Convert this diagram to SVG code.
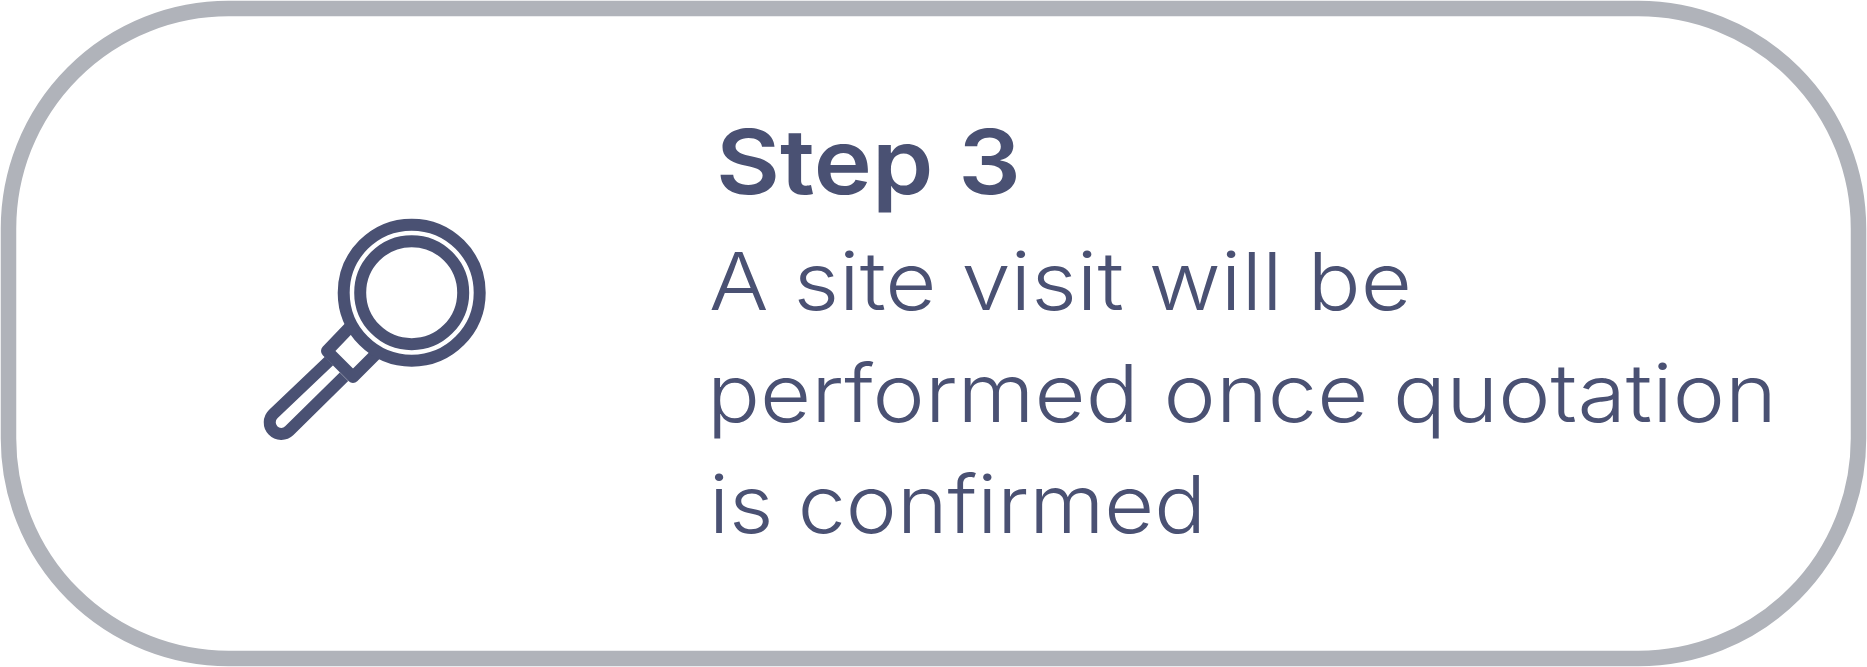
<svg xmlns="http://www.w3.org/2000/svg" width="1867" height="667" viewBox="0 0 1867 667">
<style>
.ic{fill:none;stroke:#4a5173;stroke-width:12;stroke-linejoin:round}
text{fill:#4a5173;font-family:"Inter","Liberation Sans",sans-serif}
.h{font-size:90px;font-weight:600}
.b{font-size:80px;font-weight:350}
</style>
<rect width="1867" height="667" fill="#ffffff"/>
<g id="card"><rect x="8.5" y="8.5" width="1850" height="650" rx="220" ry="220" fill="#ffffff" stroke="#b0b3ba" stroke-width="15.5"/></g>
<g id="icon">
<path class="ic" d="M350 327L327 351L353 377L376 354"/>
<path class="ic" d="M329 361L273.3 414A11.5 11.5 0 0 0 289.3 430.7L344 376.7"/>
<circle class="ic" cx="411.7" cy="292.7" r="68"/>
<circle class="ic" cx="411.7" cy="292.7" r="51.5"/>
</g>
<g id="label">
<text class="h" x="716" y="194" textLength="305" lengthAdjust="spacingAndGlyphs">Step 3</text>
<text class="b" x="709" y="310" textLength="703" lengthAdjust="spacingAndGlyphs">A site visit will be</text>
<text class="b" x="707" y="422" textLength="1070" lengthAdjust="spacingAndGlyphs">performed once quotation</text>
<text class="b" x="709" y="533" textLength="497" lengthAdjust="spacingAndGlyphs">is confirmed</text>
</g>
</svg>
